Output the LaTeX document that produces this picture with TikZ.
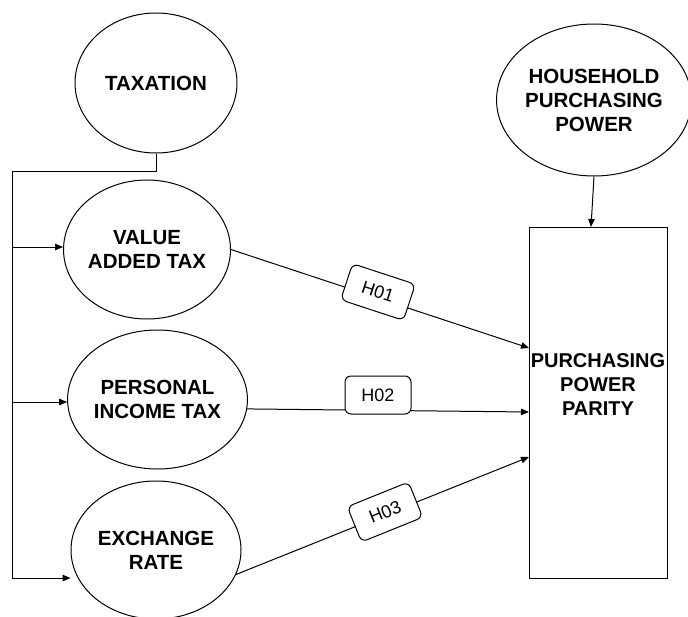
\documentclass[tikz,border=0pt]{standalone}
\usepackage{fontspec}
\setmainfont{Liberation Sans}
\usetikzlibrary{shapes.geometric,arrows.meta}
\tikzset{
  bubble/.style={draw, ellipse, line width=1pt, inner sep=0pt, align=center,
    font=\fontsize{20.5}{24}\selectfont\bfseries},
  hyp/.style={draw, rounded corners=6pt, fill=white, line width=1pt,
    minimum width=66pt, minimum height=38pt, inner sep=0pt,
    font=\fontsize{18}{20}\selectfont},
  link/.style={line width=1pt},
  arr/.style={line width=1pt, -{Triangle[length=8pt,width=6.5pt]}}
}
\begin{document}
\begin{tikzpicture}[x=1pt,y=-1pt]
\useasboundingbox (0,0) rectangle (688,616);
\begin{scope}
\clip (0,0) rectangle (688,616);
\node[bubble, minimum width=162pt, minimum height=140pt] (tax) at (156,83) {TAXATION};
\node[bubble, minimum width=166pt, minimum height=139pt] (vat) at (147,249.5) {VALUE\\ADDED TAX};
\node[bubble, minimum width=165pt, minimum height=139pt] (pit) at (157.5,399.5) {PERSONAL\\INCOME TAX};
\node[bubble, minimum width=170pt, minimum height=138pt] (er) at (156,550) {EXCHANGE\\RATE};
\node[bubble, minimum width=186pt, minimum height=152pt] (hpp) at (594,100) {HOUSEHOLD\\PURCHASING\\POWER};
\end{scope}
\node[draw, line width=1pt, minimum width=138pt, minimum height=351pt, inner sep=0pt] (ppp) at (598,402.5) {};
\node[align=center, font=\fontsize{20}{24}\selectfont\bfseries] (ppptext) at (598,385) {PURCHASING\\POWER\\PARITY};

\coordinate (corner) at (12,171);
\coordinate (b1) at (12,247);
\coordinate (b2) at (12,402);
\coordinate (b3) at (12,578);
\coordinate (t0) at (591,227);
\coordinate (t1) at (529,348);
\coordinate (t2) at (529,412);
\coordinate (t3) at (529,457);

\draw[link] (tax.south) -- (tax.south |- corner) -- (corner) -- (b3);
\draw[arr] (b1) -- (b1 -| vat.west);
\draw[arr] (b2) -- (b2 -| pit.west);
\draw[arr] (b3) -- (b3 -| er.west);
\draw[arr] (hpp.south) -- (t0);

\draw[arr] (vat.east) -- (t1);
\draw[arr] (pit.-6) -- (t2);
\draw[arr] (er.-17) -- (t3);

\node[hyp, rotate=-18.2] (h1) at (378,292) {H01};
\node[hyp] (h2) at (378,395) {H02};
\node[hyp, rotate=22] (h3) at (385,512) {H03};
\end{tikzpicture}
\end{document}
